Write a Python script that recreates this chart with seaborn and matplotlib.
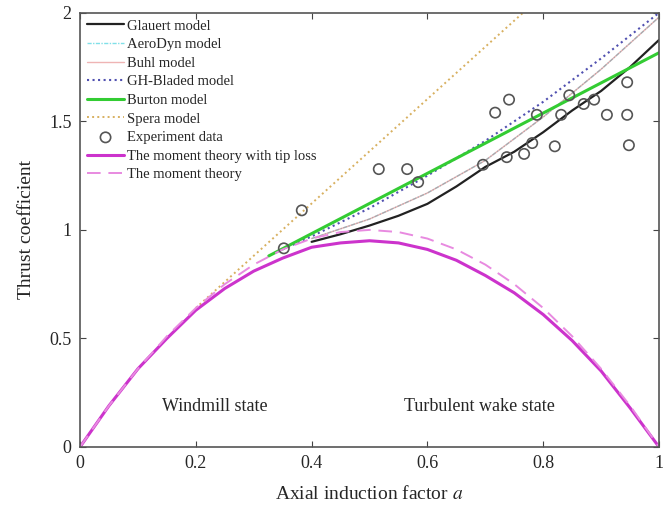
import numpy as np
import pandas as pd
import matplotlib
matplotlib.use("Agg")
import matplotlib.pyplot as plt
import seaborn as sns

# values
a_moment = [0, 0.05, 0.1, 0.15, 0.2, 0.25, 0.3, 0.35, 0.4, 0.45, 0.5,
            0.55, 0.6, 0.65, 0.7, 0.75, 0.8, 0.85, 0.9, 0.95, 1.0]
ct_moment = [0, 0.19, 0.36, 0.51, 0.64, 0.75, 0.84, 0.91, 0.96, 0.99, 1.0,
             0.99, 0.96, 0.91, 0.84, 0.75, 0.64, 0.51, 0.36, 0.19, 0]
ct_tiploss = [0, 0.19, 0.36, 0.5, 0.63, 0.73, 0.81, 0.87, 0.92, 0.94, 0.95,
              0.94, 0.91, 0.86, 0.79, 0.71, 0.61, 0.49, 0.35, 0.18, 0]

a_glauert = [0.4, 0.45, 0.5, 0.55, 0.6, 0.65, 0.7, 0.75, 0.8, 0.85, 0.9, 0.95, 1.0]
ct_glauert = [0.945, 0.98, 1.02, 1.065, 1.12, 1.2, 1.29, 1.36, 1.45, 1.55, 1.64, 1.75, 1.875]

a_buhl = [0.4, 0.5, 0.6, 0.7, 0.8, 0.9, 1.0]
ct_buhl = [0.96, 1.05, 1.17, 1.32, 1.52, 1.74, 1.98]
ct_aerodyn = [0.96, 1.05, 1.17, 1.32, 1.52, 1.74, 1.98]

a_bladed = [0.35, 0.4, 0.5, 0.6, 0.7, 0.8, 0.9, 1.0]
ct_bladed = [0.91, 0.97, 1.1, 1.25, 1.41, 1.59, 1.79, 2.0]

a_burton = [0.326, 1.0]
ct_burton = [0.88, 1.816]

a_spera = [0.2, 0.765]
ct_spera = [0.64, 2.0]

a_exp = [0.352, 0.383, 0.516, 0.565, 0.584, 0.696, 0.717, 0.741, 0.737, 0.767,
         0.781, 0.789, 0.820, 0.831, 0.845, 0.870, 0.888, 0.910, 0.945, 0.945, 0.948]
ct_exp = [0.915, 1.09, 1.28, 1.28, 1.22, 1.30, 1.54, 1.60, 1.335, 1.35,
          1.40, 1.53, 1.385, 1.53, 1.62, 1.58, 1.60, 1.53, 1.68, 1.53, 1.39]

sns.set_style("ticks")
plt.rcParams['font.family'] = ['Liberation Serif', 'DejaVu Serif']
plt.rcParams['mathtext.fontset'] = 'stix'

fig = plt.figure(figsize=(6.64, 5.12), dpi=100)
ax = fig.add_axes([0.1205, 0.127, 0.872, 0.848])

sns.lineplot(x=a_glauert, y=ct_glauert, ax=ax, color='#222222', lw=1.6, label='Glauert model')
sns.lineplot(x=a_buhl, y=ct_aerodyn, ax=ax, color='#80e0e8', lw=1.0, ls=(0, (3, 1, 1, 1)), label='AeroDyn model')
sns.lineplot(x=a_buhl, y=ct_buhl, ax=ax, color='#e06a6a', lw=1.0, alpha=0.5, label='Buhl model')
sns.lineplot(x=a_bladed, y=ct_bladed, ax=ax, color='#5050b0', lw=1.5, ls=':', label='GH-Bladed model')
sns.lineplot(x=a_burton, y=ct_burton, ax=ax, color='#33cc33', lw=2.2, label='Burton model')
sns.lineplot(x=a_spera, y=ct_spera, ax=ax, color='#d8b060', lw=1.4, ls=':', label='Spera model')
sns.scatterplot(x=a_exp, y=ct_exp, ax=ax, marker='o', s=55, facecolor='none',
                edgecolor='#555555', linewidth=1.2, label='Experiment data', zorder=5)
sns.lineplot(x=a_moment, y=ct_tiploss, ax=ax, color='#cc33cc', lw=2.2,
             label='The moment theory with tip loss')
sns.lineplot(x=a_moment, y=ct_moment, ax=ax, color='#e88ae0', lw=1.4, ls=(0, (7, 4)),
             label='The moment theory')

ax.text(0.233, 0.185, 'Windmill state', fontsize=13, ha='center', va='center')
ax.text(0.69, 0.185, 'Turbulent wake state', fontsize=13, ha='center', va='center')

ax.set_xlim(0, 1)
ax.set_ylim(0, 2)
ax.set_xticks([0, 0.2, 0.4, 0.6, 0.8, 1])
ax.set_xticklabels(['0', '0.2', '0.4', '0.6', '0.8', '1'])
ax.set_yticks([0, 0.5, 1, 1.5, 2])
ax.set_yticklabels(['0', '0.5', '1', '1.5', '2'])
ax.tick_params(direction='in', top=True, right=True, labelsize=13, color='#444444',
               length=4, pad=6)
for sp in ax.spines.values():
    sp.set_color('#555555')
    sp.set_linewidth(1.2)

ax.set_xlabel('Axial induction factor $a$', fontsize=14, labelpad=9)
ax.set_ylabel('Thrust coefficient', fontsize=14, labelpad=10)

ax.legend(loc='upper left', frameon=False, fontsize=10.5, labelspacing=0.37,
          handlelength=2.6, handletextpad=0.15, borderaxespad=0.35, borderpad=0.1)

fig.savefig('out.png', dpi=100)
